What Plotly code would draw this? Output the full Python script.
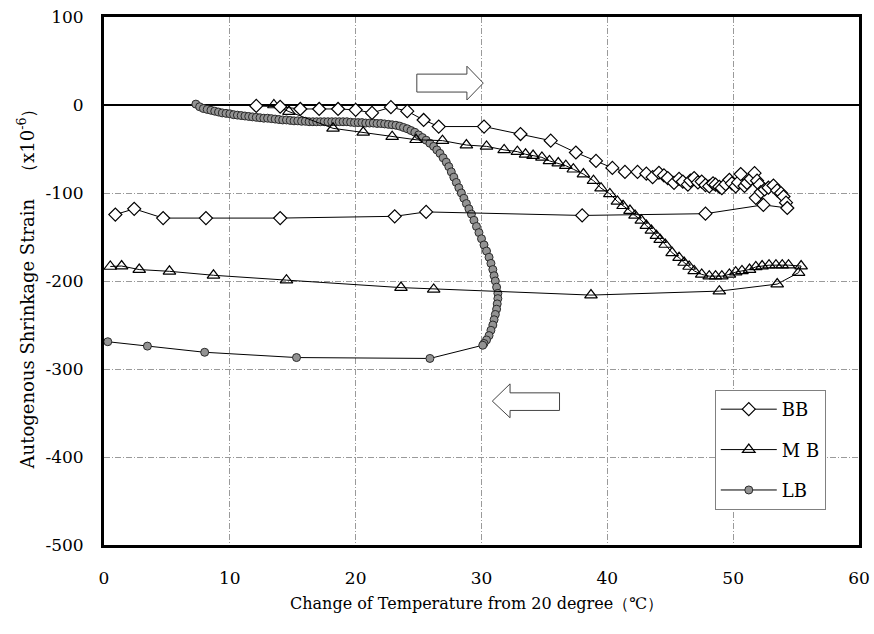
import plotly.graph_objects as go

# ---------------- data ----------------
# BB : heating branch then cooling branch
bb_x = [12.1, 14.0, 15.6, 17.1, 18.6, 20.0, 21.3, 22.8, 24.1, 25.4, 26.6, 30.2,
        33.1, 35.5, 37.5, 39.1, 40.4, 41.4, 42.4, 43.1, 43.6, 44.1, 44.5, 44.8,
        45.3, 45.7, 46.0, 46.4, 46.6, 46.9, 47.2, 47.5, 47.8, 48.1, 48.4, 48.6,
        48.9, 49.1, 49.4, 49.7, 49.9, 50.2, 50.4, 50.6, 50.9, 51.1, 51.4, 51.7,
        51.9, 52.1, 51.8, 52.2, 52.5, 52.8, 53.2, 53.5, 53.8, 54.0, 54.2, 54.3,
        52.4, 47.8, 38.0, 25.6, 23.1, 14.0, 8.1, 4.7, 2.4, 0.9]
bb_y = [-1, -2, -4.5, -4.5, -4.5, -5.5, -9, -2.5, -7, -17, -24.5, -24.5,
        -33, -40.5, -54, -63.5, -71.5, -76, -76, -78, -82, -77, -80, -83,
        -88.5, -84, -87, -90.5, -86, -83, -88, -87, -91, -92.5, -89, -90.5,
        -93, -94.5, -90, -85, -89, -92.5, -88, -78.5, -92, -88.5, -84, -77.5,
        -86, -90.5, -105.5, -99, -96, -94, -91.5, -97, -100, -104, -111, -117,
        -113.5, -123.5, -125.5, -121.5, -126.5, -128.5, -128.5, -128.5, -118, -124.5]

# MB : heating branch then cooling branch
mb_x = [13.5, 14.7, 18.2, 20.6, 22.9, 24.8, 26.9, 28.8, 30.4, 31.8, 32.85, 33.5,
        34.1, 34.8, 35.4, 36.1, 36.7, 37.3, 38.1, 38.9, 39.5, 40.2, 40.8, 41.25,
        41.8, 42.2, 42.7, 43.1, 43.5, 43.9, 44.2, 44.6, 45.15, 45.7, 46.1, 46.5,
        46.9, 47.5, 48.1, 48.6, 49.1, 49.7, 50.2, 50.7, 51.3, 51.8, 52.3, 52.85,
        53.4, 53.9, 54.4, 55.4,
        55.2, 53.5, 48.9, 38.7, 26.2, 23.6, 14.5, 8.7, 5.2, 2.8, 1.4, 0.5]
mb_y = [0, -7.5, -26.5, -31, -36, -39.5, -40.5, -45.5, -47, -51, -53, -56,
        -57.5, -59.5, -63.5, -66, -69, -73, -78.5, -86, -94.5, -101, -109.5, -114.5,
        -120, -125.5, -131, -137, -142.5, -148.5, -153, -158.5, -168, -173.5, -179, -183.5,
        -188.5, -192.5, -194.5, -194.5, -194.5, -192.5, -190, -188.5, -187, -184, -183, -182,
        -182, -182, -182, -183,
        -190.5, -203.5, -211.5, -216, -209.5, -207.5, -199, -193.5, -189, -187, -183, -183.5]

# LB : heating branch (dense) then cooling branch
lb_x = [7.3, 7.6, 7.9, 8.2, 8.5, 8.8, 9.1, 9.4, 9.7, 10.0, 10.3, 10.6, 10.9, 11.2,
        11.5, 11.8, 12.1, 12.4, 12.7, 13.0, 13.3, 13.6, 13.9, 14.2, 14.5, 14.8,
        15.1, 15.4, 15.7, 16.0, 16.3, 16.6, 16.9, 17.2, 17.5, 17.8, 18.1, 18.4,
        18.7, 19.0, 19.3, 19.6, 19.9, 20.2, 20.5, 20.8, 21.1, 21.4, 21.7, 22.0,
        22.3, 22.6, 22.9, 23.2, 23.5, 23.8, 24.1, 24.4, 24.7, 25.0, 25.3, 25.6,
        25.9, 26.2, 26.45, 26.7, 26.95, 27.2, 27.4, 27.6, 27.8, 28.0, 28.2, 28.4,
        28.6, 28.8, 29.0, 29.2, 29.4, 29.6, 29.8, 30.0, 30.2, 30.4, 30.6, 30.75,
        30.9, 31.0, 31.1, 31.2, 31.3, 31.3, 31.25, 31.2, 31.1, 31.0, 30.9, 30.75,
        30.6, 30.4, 30.2, 30.1,
        25.9, 15.3, 8.0, 3.45, 0.3]
lb_y = [1, -2, -4, -5, -6, -7, -8, -9, -9.5, -10, -11, -11.5, -12, -12.5,
        -13, -13.5, -14, -14.5, -15, -15, -15.5, -16, -16.5, -17, -17, -17.5,
        -18, -18, -18.5, -18.5, -19, -19, -19, -19, -19, -19, -19, -19,
        -19, -19, -19, -19.5, -20, -20, -20, -20.5, -20.5, -20.5, -21, -21,
        -21.5, -22, -22.5, -23, -24, -25.5, -27, -29, -31, -34, -37, -40,
        -43.5, -47, -51, -55, -60, -65, -70, -76, -82, -88, -94, -100,
        -106, -112, -118, -124, -131, -138, -145, -152, -159, -166, -173, -180,
        -187, -194, -200, -207, -214, -220, -226, -232, -238, -244, -250, -256,
        -262, -267, -271, -273,
        -288, -287, -281, -274, -269]

series_names = ["BB", "M B", "LB"]
x_ticks = [0, 10, 20, 30, 40, 50, 60]
y_ticks = [100, 0, -100, -200, -300, -400, -500]
y_ticktext = ["100", "0", "-100", "-200", "-300", "-400", "-500"]

FONT = "DejaVu Serif"

fig = go.Figure()

fig.add_trace(go.Scatter(
    x=lb_x, y=lb_y, name=series_names[2], mode="lines+markers",
    line=dict(color="black", width=1),
    marker=dict(symbol="circle", size=8, color="#939393",
                line=dict(color="#2a2a2a", width=1)),
    legendgroup="c", legendrank=3))
fig.add_trace(go.Scatter(
    x=mb_x, y=mb_y, name=series_names[1], mode="lines+markers",
    line=dict(color="black", width=1),
    marker=dict(symbol="triangle-up-open", size=11, color="black",
                line=dict(color="black", width=1.2)),
    legendgroup="b", legendrank=2))
fig.add_trace(go.Scatter(
    x=bb_x, y=bb_y, name=series_names[0], mode="lines+markers",
    line=dict(color="black", width=1),
    marker=dict(symbol="diamond", size=10, color="white",
                line=dict(color="black", width=1.2)),
    legendgroup="a", legendrank=1))

# hollow arrows (heating -> / cooling <-)
arrow_style = dict(type="path", xref="x", yref="y",
                   line=dict(color="#444", width=1), fillcolor="white", layer="above")
fig.add_shape(path="M 24.86,35.1 L 28.84,35.1 L 28.84,44.1 L 30.14,24.9 "
                   "L 28.84,5.7 L 28.84,14.7 L 24.86,14.7 Z", **arrow_style)
fig.add_shape(path="M 36.2,-327.1 L 32.27,-327.1 L 32.27,-316.9 L 30.86,-336.5 "
                   "L 32.27,-355.4 L 32.27,-347.1 L 36.2,-347.1 Z", **arrow_style)

grid = dict(showgrid=True, gridcolor="#9a9a9a", gridwidth=1, griddash="6px,2px,1px,2px")

fig.update_xaxes(range=[0, 60], tickvals=x_ticks, ticks="", zeroline=False,
                 showline=True, mirror=True, linecolor="black", linewidth=3,
                 tickfont=dict(family=FONT, size=17, color="black"),
                 ticklabelstandoff=16, automargin=False, **grid)
fig.update_yaxes(range=[-500, 100], tickvals=y_ticks, ticktext=y_ticktext, ticks="",
                 zeroline=True, zerolinecolor="black", zerolinewidth=1.5,
                 showline=True, mirror=True, linecolor="black", linewidth=3,
                 tickfont=dict(family=FONT, size=17, color="black"),
                 ticklabelstandoff=14, automargin=False, **grid)

fig.add_annotation(text="Autogenous Shrinkage Strain\u3000（x10<sup>-6</sup>）",
                   xref="paper", yref="paper", x=-0.103, y=0.494, textangle=-90,
                   showarrow=False, xanchor="center", yanchor="middle",
                   font=dict(family=FONT, size=18, color="black"))
fig.add_annotation(text="Change of Temperature from 20 degree（℃）",
                   xref="paper", yref="paper", x=0.493, y=-0.11,
                   showarrow=False, xanchor="center", yanchor="middle",
                   font=dict(family=FONT, size=16, color="black"))

fig.update_layout(
    width=874, height=634,
    margin=dict(l=104, r=15, t=17, b=89, autoexpand=False),
    paper_bgcolor="white", plot_bgcolor="white",
    showlegend=True,
    legend=dict(x=0.809, y=0.2936, xanchor="left", yanchor="top",
                bgcolor="white", bordercolor="#808080", borderwidth=1,
                font=dict(family=FONT, size=18, color="black"),
                tracegroupgap=14, itemwidth=56),
)

fig.write_html("out.html", config={"displayModeBar": False},
               post_script="document.body.style.margin='0';")
